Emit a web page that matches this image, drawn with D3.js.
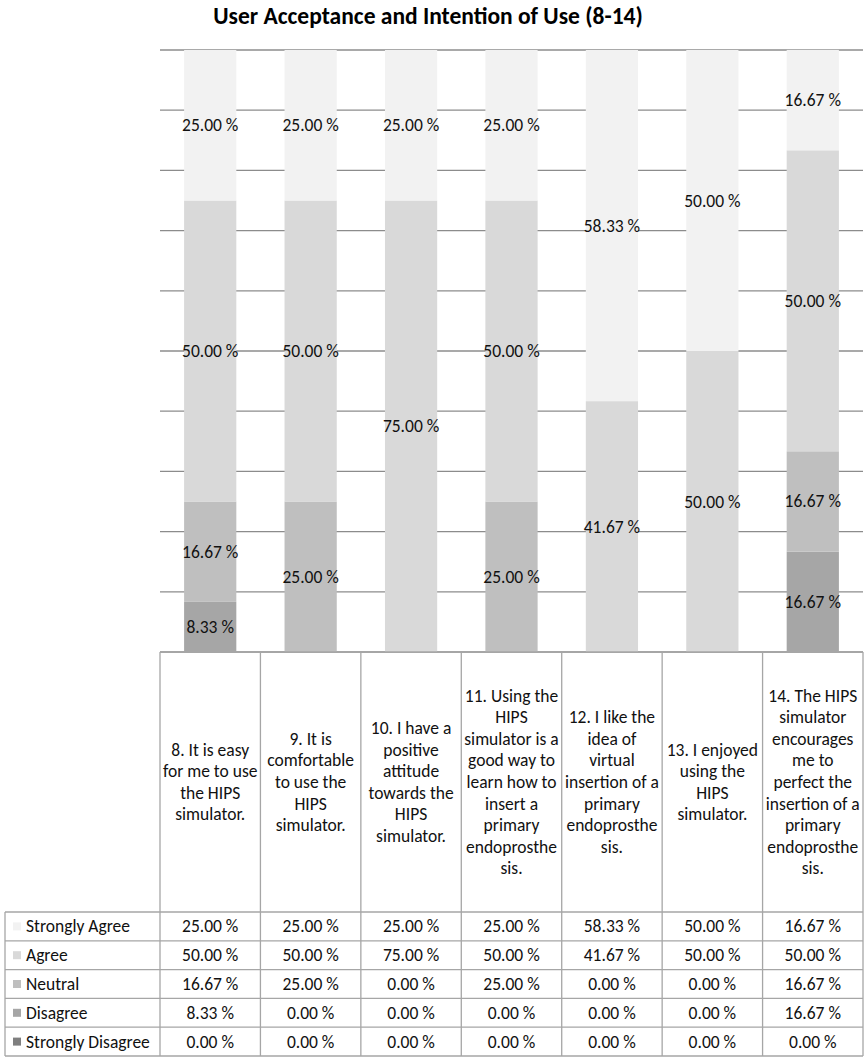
<!DOCTYPE html>
<html>
<head>
<meta charset="utf-8">
<script src="https://cdn.jsdelivr.net/npm/d3@7/dist/d3.min.js"></script>
<style>
  body { margin: 0; background: #fff; }
  svg { display: block; font-family: Carlito, Calibri, Lato, sans-serif; }
</style>
</head>
<body>
<svg id="chart" width="865" height="1059"></svg>
<script>
// ---------- data ----------
const title = "User Acceptance and Intention of Use (8-14)";
const categories = ["8", "9", "10", "11", "12", "13", "14"];
const categoryLines = [
  ["8. It is easy", "for me to use", "the HIPS", "simulator."],
  ["9. It is", "comfortable", "to use the", "HIPS", "simulator."],
  ["10. I have a", "positive", "attitude", "towards the", "HIPS", "simulator."],
  ["11. Using the", "HIPS", "simulator is a", "good way to", "learn how to", "insert a", "primary", "endoprosthe", "sis."],
  ["12. I like the", "idea of", "virtual", "insertion of a", "primary", "endoprosthe", "sis."],
  ["13. I enjoyed", "using the", "HIPS", "simulator."],
  ["14. The HIPS", "simulator", "encourages", "me to", "perfect the", "insertion of a", "primary", "endoprosthe", "sis."]
];
const seriesNames = ["Strongly Agree", "Agree", "Neutral", "Disagree", "Strongly Disagree"];
const stronglyAgree    = [25.00, 25.00, 25.00, 25.00, 58.33, 50.00, 16.67];
const agree            = [50.00, 50.00, 75.00, 50.00, 41.67, 50.00, 50.00];
const neutral          = [16.67, 25.00, 0.00, 25.00, 0.00, 0.00, 16.67];
const disagree         = [8.33, 0.00, 0.00, 0.00, 0.00, 0.00, 16.67];
const stronglyDisagree = [0.00, 0.00, 0.00, 0.00, 0.00, 0.00, 0.00];
const seriesValues = [stronglyAgree, agree, neutral, disagree, stronglyDisagree];
const yTicks = [0, 10, 20, 30, 40, 50, 60, 70, 80, 90, 100];
const colors = ["#f2f2f2", "#d9d9d9", "#bfbfbf", "#a6a6a6", "#7f7f7f"];

// ---------- layout ----------
const svg = d3.select("#chart");
const plotLeft = 160, plotRight = 863, plotTop = 50, plotBottom = 652;
const tableLeft = 5, headerBottom = 912, rowH = 28.8;
const fs = 17.5;

const xCol = d3.scaleBand().domain(categories).range([plotLeft, plotRight]).padding(0);
const xBar = d3.scaleBand().domain(categories).range([plotLeft, plotRight])
  .paddingInner(0.48).paddingOuter(0.24);
const y = d3.scaleLinear().domain([0, 100]).range([plotBottom, plotTop]);
const color = d3.scaleOrdinal().domain(seriesNames).range(colors);

// title
svg.append("text")
  .attr("x", 428).attr("y", 24)
  .attr("text-anchor", "middle")
  .attr("font-weight", "bold")
  .attr("font-size", 23.5)
  .attr("fill", "#000")
  .text(title);

// gridlines
svg.append("g").selectAll("line").data(yTicks).join("line")
  .attr("x1", plotLeft).attr("x2", plotRight)
  .attr("y1", d => y(d)).attr("y2", d => y(d))
  .attr("stroke", "#8c8c8c").attr("stroke-width", 1.3);

// stacked data (bottom: Strongly Disagree)
const rows = categories.map((c, i) => {
  const o = { cat: c };
  seriesNames.forEach((s, k) => o[s] = seriesValues[k][i]);
  return o;
});
const stackOrder = seriesNames.slice().reverse();
const stacked = d3.stack().keys(stackOrder)(rows);

const layers = svg.append("g").selectAll("g").data(stacked).join("g")
  .attr("fill", d => color(d.key));
layers.selectAll("rect").data(d => d).join("rect")
  .attr("x", d => xBar(d.data.cat))
  .attr("width", xBar.bandwidth())
  .attr("y", d => y(d[1]))
  .attr("height", d => y(d[0]) - y(d[1]));

// segment labels
const labelG = svg.append("g");
stacked.forEach(layer => {
  layer.forEach(d => {
    const v = d[1] - d[0];
    if (v <= 0) return;
    labelG.append("text")
      .attr("x", xBar(d.data.cat) + xBar.bandwidth() / 2)
      .attr("y", (y(d[0]) + y(d[1])) / 2 + 6)
      .attr("text-anchor", "middle")
      .attr("font-size", fs)
      .attr("fill", "#111")
      .text(d.data[layer.key].toFixed(2) + " %");
  });
});

// ---------- table ----------
const tableBottom = headerBottom + rowH * seriesNames.length;
const lineColor = "#a6a6a6";
const tg = svg.append("g");

// category header cells
categoryLines.forEach((lines, i) => {
  const cx = xCol(categories[i]) + xCol.bandwidth() / 2;
  const lh = 21.6;
  const cy = (plotBottom + headerBottom) / 2;
  const start = cy - (lines.length - 1) * lh / 2;
  const t = tg.append("text").attr("text-anchor", "middle").attr("font-size", fs).attr("fill", "#111");
  lines.forEach((ln, j) => {
    t.append("tspan").attr("x", cx).attr("y", start + j * lh + 6).text(ln);
  });
});

// value rows
seriesNames.forEach((s, r) => {
  const cy = headerBottom + rowH * r + rowH / 2;
  tg.append("rect")
    .attr("x", 13).attr("y", cy - 4).attr("width", 8).attr("height", 8)
    .attr("fill", color(s));
  tg.append("text")
    .attr("x", 26).attr("y", cy + 6)
    .attr("font-size", fs).attr("fill", "#111")
    .text(s);
  categories.forEach((c, i) => {
    tg.append("text")
      .attr("x", xCol(c) + xCol.bandwidth() / 2)
      .attr("y", cy + 6)
      .attr("text-anchor", "middle")
      .attr("font-size", fs).attr("fill", "#111")
      .text(seriesValues[r][i].toFixed(2) + " %");
  });
});

// table lines
const hLines = d3.range(seriesNames.length + 1).map(k => headerBottom + rowH * k);
tg.selectAll("line.h").data(hLines).join("line")
  .attr("x1", tableLeft).attr("x2", plotRight)
  .attr("y1", d => d).attr("y2", d => d)
  .attr("stroke", lineColor).attr("stroke-width", 1.3);
const vPos = categories.map(c => xCol(c)).concat([plotRight]);
tg.selectAll("line.v").data(vPos).join("line")
  .attr("x1", d => d).attr("x2", d => d)
  .attr("y1", plotBottom).attr("y2", tableBottom)
  .attr("stroke", lineColor).attr("stroke-width", 1.3);
tg.append("line")
  .attr("x1", tableLeft).attr("x2", tableLeft)
  .attr("y1", headerBottom).attr("y2", tableBottom)
  .attr("stroke", lineColor).attr("stroke-width", 1.3);
tg.append("line")
  .attr("x1", plotLeft).attr("x2", plotRight)
  .attr("y1", plotBottom).attr("y2", plotBottom)
  .attr("stroke", lineColor).attr("stroke-width", 1.3);
</script>
</body>
</html>
